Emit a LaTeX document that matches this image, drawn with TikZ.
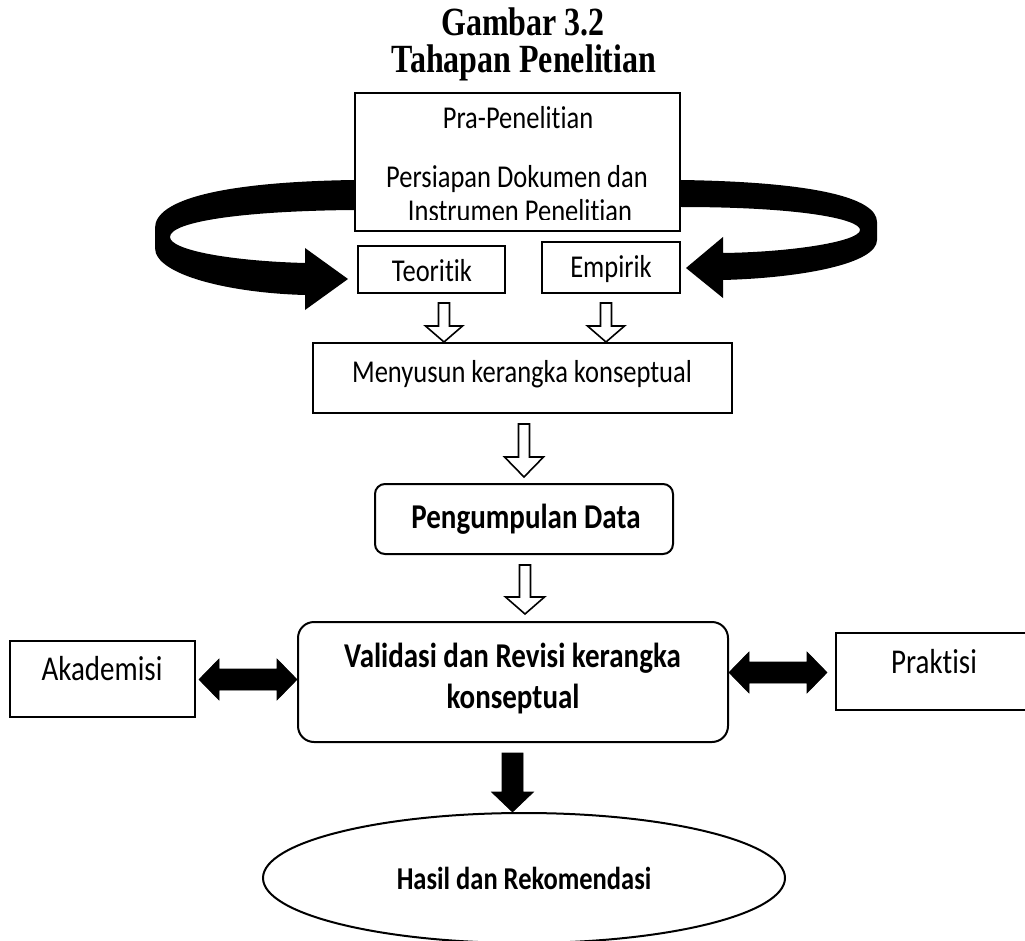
\documentclass[tikz,border=0pt]{standalone}
\usepackage{fontspec}
\setmainfont{Carlito}[Ligatures=NoCommon]
\newfontfamily\titlefont{Liberation Serif}
\usetikzlibrary{calc,shapes.geometric}
\newcommand\tallx[1]{\scalebox{1}[1.2]{#1}}
\newcommand\talltitle[1]{\scalebox{1}[1.25]{#1}}
\tikzset{
  box/.style={draw, line width=2pt, inner sep=0pt},
  txt/.style={anchor=base, inner sep=0pt, font=\fontsize{26.5}{30}\selectfont},
  bigtxt/.style={anchor=base, inner sep=0pt, font=\fontsize{29}{34}\selectfont},
  btxt/.style={anchor=base, inner sep=0pt, font=\fontsize{29}{34}\selectfont\bfseries},
  ttxt/.style={anchor=base, inner sep=0pt, font=\titlefont\fontsize{32}{36}\selectfont\bfseries},
  hollow/.style={draw=black, fill=white, line width=1.6pt, line join=miter},
  solidarrow/.style={fill=black, draw=black, line width=0.6pt, line join=miter},
  bandarrow/.style={fill=black, draw=none},
}
% vertical block arrow: style, start (top centre), end (tip), shaft half, head half, head length
\newcommand\downblock[6]{%
  \path[#1] let \p1=#2, \p2=#3 in
    (\x1-#4,\y1) -- (\x1+#4,\y1) -- (\x1+#4,\y2+#6) -- (\x1+#5,\y2+#6) --
    (\x1,\y2) -- (\x1-#5,\y2+#6) -- (\x1-#4,\y2+#6) -- cycle;}
% horizontal double block arrow: style, left tip, right tip, shaft half, head half, head length
\newcommand\sideblock[6]{%
  \path[#1] let \p1=#2, \p2=#3 in
    (\x1,\y1) -- (\x1+#6,\y1+#5) -- (\x1+#6,\y1+#4) -- (\x2-#6,\y1+#4) --
    (\x2-#6,\y1+#5) -- (\x2,\y1) -- (\x2-#6,\y1-#5) -- (\x2-#6,\y1-#4) --
    (\x1+#6,\y1-#4) -- (\x1+#6,\y1-#5) -- cycle;}
\begin{document}
\begin{tikzpicture}[x=1pt,y=-1pt]
\useasboundingbox (0,0) rectangle (1025,941);

% title
\node[ttxt] (title1) at (523,36) {\talltitle{Gambar 3.2}};
\node[ttxt] (title2) at (524,73) {\talltitle{Tahapan Penelitian}};

% boxes
\node[box, minimum width=325pt, minimum height=138pt] (pra) at (517.5,162) {};
\node[box, minimum width=147pt, minimum height=47pt] (teo) at (431.5,269.5) {};
\node[box, minimum width=138pt, minimum height=51pt] (emp) at (611,267.5) {};
\node[box, minimum width=419pt, minimum height=70pt] (meny) at (522.5,378) {};
\node[box, rounded corners=10pt, minimum width=298pt, minimum height=70pt] (peng) at (524,519) {};
\node[box, rounded corners=16pt, minimum width=430pt, minimum height=120pt] (val) at (513,682) {};
\node[box, minimum width=185pt, minimum height=76pt] (aka) at (102.5,679) {};
\node[box, minimum width=194pt, minimum height=77pt] (prak) at (933,671.5) {};
\node[box, ellipse, minimum width=522pt, minimum height=130pt] (has) at (524,878) {};

% texts
\node[txt] (pra1) at (518,129) {\tallx{Pra-Penelitian}};
\node[txt] (pra2) at (517,188) {\tallx{Persiapan Dokumen dan}};
\begin{scope}
  \clip (357,95) rectangle (678,220);
  \node[txt] (pra3) at (520,222) {\tallx{Instrumen Penelitian}};
\end{scope}
\node[txt] (teoT) at (432,282) {\tallx{Teoritik}};
\node[txt] (empT) at (611,278) {\tallx{Empirik}};
\node[txt] (menyT) at (522,382) {\tallx{Menyusun kerangka konseptual}};
\node[btxt] (pengT) at (526,528) {\tallx{Pengumpulan Data}};
\node[btxt] (valT1) at (512.5,667) {\tallx{Validasi dan Revisi kerangka}};
\node[btxt] (valT2) at (513,708) {\tallx{konseptual}};
\node[btxt, font=\fontsize{26.5}{30}\selectfont\bfseries] (hasT) at (524,889) {\tallx{Hasil dan Rekomendasi}};
\node[bigtxt] (akaT) at (102,680) {\tallx{Akademisi}};
\node[bigtxt] (prakT) at (934,673) {\tallx{Praktisi}};

% curved arrows from Pra-Penelitian to Teoritik / Empirik
\coordinate (ltip) at (348,279);
\coordinate (rtip) at (686,268);
\fill[bandarrow] (pra.west |- 0,180) .. controls (220,182) and (155,200) .. (155,228)
  -- (155,248) .. controls (155,275) and (230,293) .. (305,295)
  -- (305,310) -- (ltip) -- (305,248) -- (305,263)
  .. controls (230,261) and (170,250) .. (170,237)
  .. controls (170,222) and (240,211) .. (pra.west |- 0,210) -- cycle;
\fill[bandarrow] (pra.east |- 0,180) .. controls (815,182) and (877,198) .. (877,222)
  -- (877,240) .. controls (877,264) and (800,278) .. (723,280)
  -- (723,298) -- (rtip) -- (723,237) -- (723,253)
  .. controls (795,252) and (860,241) .. (860,230)
  .. controls (860,219) and (800,207) .. (pra.east |- 0,207) -- cycle;

% hollow arrows
\downblock{hollow}{($(teo.south)+(12.5,9)$)}{(meny.north)}{5.5pt}{18.5pt}{16pt}
\downblock{hollow}{($(emp.south)+(-5,9)$)}{(meny.north)}{5.5pt}{18.5pt}{16pt}
\downblock{hollow}{($(meny.south)+(1.5,10)$)}{($(peng.north)+(0,-6)$)}{5.5pt}{19.5pt}{20pt}
\downblock{hollow}{($(peng.south)+(1,10)$)}{($(val.north)+(0,-7)$)}{5.5pt}{19.5pt}{17pt}

% solid arrow to results
\downblock{solidarrow}{($(val.south)+(-0.5,10)$)}{(has.north)}{10.5pt}{21pt}{20pt}

% double arrows
\sideblock{solidarrow}{($(aka.east)+(3,0.5)$)}{(val.west |- 0,679.5)}{10.5pt}{20.5pt}{20pt}
\sideblock{solidarrow}{(val.east |- 0,672.5)}{($(prak.west)+(-8,1)$)}{10.5pt}{20.5pt}{20pt}
\end{tikzpicture}
\end{document}
